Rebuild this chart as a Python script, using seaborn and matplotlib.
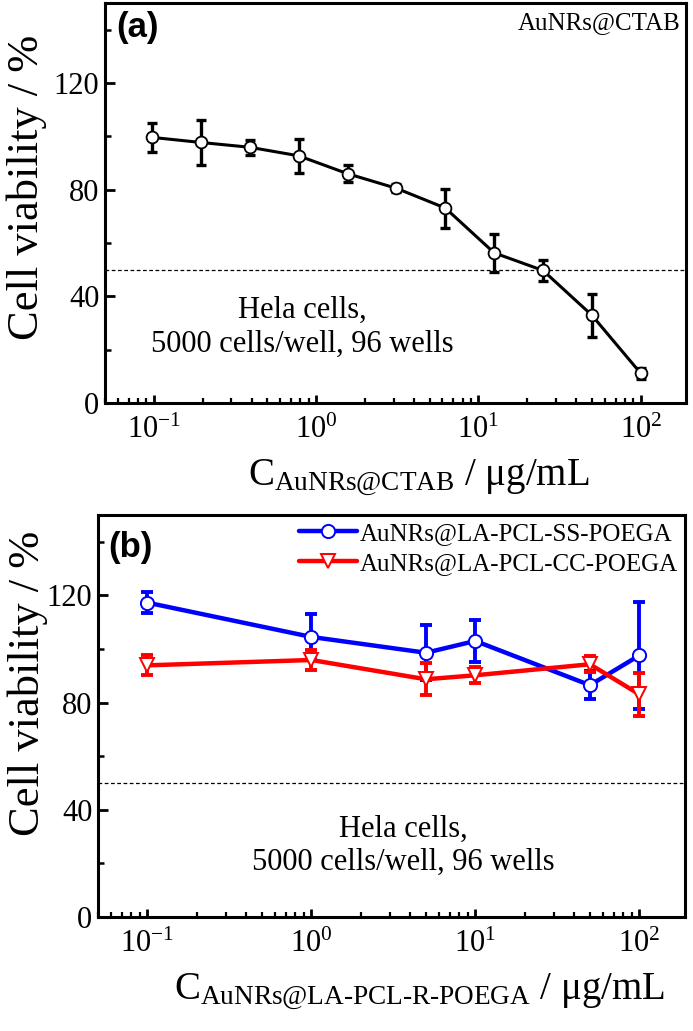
import numpy as np
import pandas as pd
import matplotlib
matplotlib.use("Agg")
import matplotlib.pyplot as plt
import seaborn as sns
from matplotlib.ticker import MultipleLocator, LogLocator, LogFormatterMathtext, NullFormatter

# data
conc_a = [0.0977, 0.195, 0.39, 0.78, 1.56, 3.125, 6.25, 12.5, 25, 50, 100]
via_a = [99.6, 97.7, 95.9, 92.7, 86.0, 80.5, 73.1, 56.3, 49.7, 32.9, 11.1]
err_a = [5.5, 8.5, 2.8, 6.3, 3.3, 1.5, 7.3, 7.0, 3.8, 8.0, 2.0]

conc_b = [0.1, 1, 5, 10, 50, 100]
via_ss = [117.3, 104.5, 98.6, 103.0, 86.5, 97.6]
err_ss = [4.0, 8.7, 10.2, 8.0, 5.3, 20.0]
via_cc = [93.9, 95.9, 88.7, 90.2, 94.3, 83.1]
err_cc = [3.7, 3.9, 5.9, 3.0, 3.0, 8.0]

labels_b = ["AuNRs@LA-PCL-SS-POEGA", "AuNRs@LA-PCL-CC-POEGA"]
hela_text = "Hela cells,\n5000 cells/well, 96 wells"

sns.set_style("ticks")
plt.rcParams["font.family"] = ["Liberation Serif", "DejaVu Serif"]
plt.rcParams["mathtext.fontset"] = "custom"
plt.rcParams["mathtext.rm"] = "Liberation Serif"
plt.rcParams["mathtext.it"] = "Liberation Serif:italic"
plt.rcParams["mathtext.bf"] = "Liberation Serif:bold"
plt.rcParams["text.color"] = "black"
plt.rcParams["axes.labelcolor"] = "black"
plt.rcParams["xtick.color"] = "black"
plt.rcParams["ytick.color"] = "black"

fig = plt.figure(figsize=(6.93, 10.31), dpi=100)
ax_a = fig.add_axes([105 / 693, 1 - 403 / 1031, 581 / 693, 400 / 1031])
ax_b = fig.add_axes([98 / 693, 1 - 917 / 1031, 587 / 693, 402 / 1031])


def style_axes(ax):
    ax.set_xscale("log")
    ax.set_xlim(0.05, 190)
    ax.set_ylim(0, 150)
    ax.yaxis.set_major_locator(MultipleLocator(40))
    ax.yaxis.set_minor_locator(MultipleLocator(20))
    ax.xaxis.set_major_locator(LogLocator(base=10, numticks=10))
    ax.xaxis.set_minor_locator(LogLocator(base=10, subs=np.arange(2, 10), numticks=20))
    ax.xaxis.set_major_formatter(LogFormatterMathtext())
    ax.xaxis.set_minor_formatter(NullFormatter())
    for s in ax.spines.values():
        s.set_linewidth(2.2)
        s.set_color("k")
    ax.tick_params(axis="both", which="both", direction="in", top=False, right=False,
                   colors="k", labelcolor="k", labelsize=22)
    ax.tick_params(axis="y", which="major", length=7, width=2, pad=4)
    ax.tick_params(axis="y", which="minor", length=4.5, width=1.8)
    ax.tick_params(axis="x", which="major", length=6, width=2, pad=9)
    ax.tick_params(axis="x", which="minor", length=3.5, width=1.6)
    ax.axhline(50, color="k", lw=0.9, ls=(0, (3, 2)), zorder=1)
    ax.set_ylabel("Cell viability / %", fontsize=32, color="k")


# panel (a)
df_a = pd.DataFrame({"conc": conc_a, "viability": via_a})
ax_a.errorbar(conc_a, via_a, yerr=err_a, fmt="none", ecolor="k", elinewidth=2.4,
              capsize=3.6, capthick=2.4, zorder=2)
sns.lineplot(data=df_a, x="conc", y="viability", ax=ax_a, color="k", lw=2.2,
             marker="o", ms=8.5, markerfacecolor="white", markeredgecolor="k",
             markeredgewidth=1.3, zorder=3)
style_axes(ax_a)
ax_a.set_xlabel(r"C$_{\text{AuNRs@CTAB}}$ / μg/mL", fontsize=28, color="k")
ax_a.xaxis.set_label_coords(0.54, -0.135)
ax_a.yaxis.set_label_coords(-0.099, 0.54)
ax_a.text(0.02, 0.94, "(a)", transform=ax_a.transAxes, ha="left", va="center",
          fontsize=25, fontweight="bold", color="k", family=["Liberation Sans", "DejaVu Sans"])
ax_a.text(0.99, 0.95, "AuNRs@CTAB", transform=ax_a.transAxes, ha="right", va="center",
          fontsize=18, color="k")
ax_a.text(0.34, 0.189, hela_text, transform=ax_a.transAxes, ha="center", va="center",
          fontsize=22, linespacing=1.2, color="k")

# panel (b)
df_b = pd.DataFrame({
    "conc": conc_b * 2,
    "viability": via_ss + via_cc,
    "sample": [labels_b[0]] * len(conc_b) + [labels_b[1]] * len(conc_b),
})
ax_b.errorbar(conc_b, via_ss, yerr=err_ss, fmt="none", ecolor="#0000ff", elinewidth=2.8,
              capsize=4, capthick=2.8, zorder=2)
ax_b.errorbar(conc_b, via_cc, yerr=err_cc, fmt="none", ecolor="#ff0000", elinewidth=2.8,
              capsize=4, capthick=2.8, zorder=2)
sns.lineplot(data=df_b[df_b["sample"] == labels_b[0]], x="conc", y="viability", ax=ax_b,
             color="#0000ff", lw=3.2, marker="o", ms=9.5, markerfacecolor="white",
             markeredgecolor="#0000ff", markeredgewidth=1.4, zorder=3, label=labels_b[0])
sns.lineplot(data=df_b[df_b["sample"] == labels_b[1]], x="conc", y="viability", ax=ax_b,
             color="#ff0000", lw=3.2, marker="v", ms=10, markerfacecolor="white",
             markeredgecolor="#ff0000", markeredgewidth=1.4, zorder=4, label=labels_b[1])
style_axes(ax_b)
ax_b.set_xlabel(r"C$_{\text{AuNRs@LA-PCL-R-POEGA}}$ / μg/mL", fontsize=28, color="k")
ax_b.xaxis.set_label_coords(0.547, -0.135)
ax_b.yaxis.set_label_coords(-0.086, 0.58)
ax_b.text(0.017, 0.92, "(b)", transform=ax_b.transAxes, ha="left", va="center",
          fontsize=25, fontweight="bold", color="k", family=["Liberation Sans", "DejaVu Sans"])
ax_b.text(0.52, 0.177, hela_text, transform=ax_b.transAxes, ha="center", va="center",
          fontsize=22, linespacing=1.2, color="k")
leg = ax_b.legend(loc="upper right", bbox_to_anchor=(1.0, 1.0), frameon=False, fontsize=18,
                  handlelength=2.3, handletextpad=0.1, labelspacing=0.3, borderpad=0.2,
                  borderaxespad=0.1)
for t in leg.get_texts():
    t.set_color("k")

fig.savefig("out.png", dpi=100)
